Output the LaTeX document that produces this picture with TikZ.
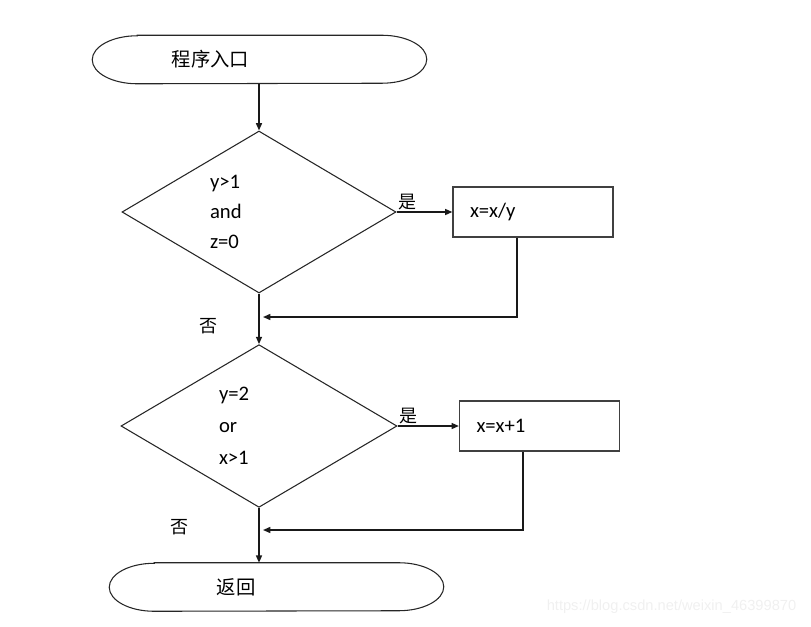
\documentclass[tikz,border=0pt]{standalone}
\usepackage{fontspec}
\setmainfont{Carlito}
\newfontfamily\cjk{Noto Sans CJK SC}
\newfontfamily\markfont{Liberation Sans}
\usetikzlibrary{arrows.meta,shapes.geometric,calc}
\tikzset{
shapeline/.style={
    draw=black!85,
    line width=0.8pt
},
terminalbox/.style={
    rectangle,
    minimum width=250.5pt,
    minimum height=36pt,
    inner sep=0pt
},
decision/.style={
    diamond,
    shapeline,
    aspect=1.7,
    inner sep=0pt,
    align=left,
    font=\fontsize{15.5}{22.5}\selectfont
},
process/.style={
    rectangle,
    draw=black!75,
    line width=0.9pt,
    minimum width=120pt,
    minimum height=37.5pt,
    inner xsep=12.75pt,
    inner ysep=0pt,
    text width=94.5pt,
    align=left,
    font=\fontsize{15.5}{18}\selectfont
},
cjklabel/.style={
    inner sep=1pt,
    font=\cjk\fontsize{14.5}{16}\selectfont
},
branch/.style={
    inner sep=1pt,
    font=\cjk\fontsize{13.5}{15}\selectfont
},
flowline/.style={
    draw=black!90,
    line width=1.1pt,
    -{Triangle[length=5.5pt,width=4.5pt]}
},
}
\tikzset{pics/terminal/.style 2 args={code={
%
\node (box) [terminalbox] {};
\draw [shapeline] ($ (box.north west) + (45,0) $) -- ($ (box.north east) - (45,0) $)
    arc [start angle=90, end angle=-90, x radius=45, y radius=24]
    -- ($ (box.south west) + (45,0) $)
    arc [start angle=270, end angle=90, x radius=45, y radius=24] -- cycle;
\node (text) [cjklabel,anchor=west] at ($ (box.west) + (#2,0) $) {#1};
%
}}}

\begin{document}
\begin{tikzpicture}[x=0.75pt,y=0.75pt]

\useasboundingbox (0,0) rectangle (811,-626);

\pic (start-) at (259.5,-59.5) {terminal={程序入口}{78}};
\pic (stop-) at (276.5,-587) {terminal={返回}{106}};

\node (cond1) [decision,minimum width=205.5pt,minimum height=121.5pt,text width=73.5pt] at (259,-212) {y>1\\and\\z=0};
\node (cond2) [decision,minimum width=207pt,minimum height=122pt,text width=60pt,font=\fontsize{15.5}{24}\selectfont] at (259,-426) {y=2\\or\\x>1};

\node (box1) [process] at (533,-212) {x=x/y};
\node (box2) [process] at (539.5,-426) {x=x+1};

\coordinate (join1) at (259,-317);
\coordinate (join2) at (259,-530);

% main line
\draw [flowline] (start-box.south -| cond1.north) -- (cond1.north);
\draw [flowline] (cond1.south) -- (cond2.north);
\draw [flowline] (cond2.south) -- (stop-box.north -| cond2.south);
%
\draw [flowline] (cond1.east) -- node [branch,pos=0,anchor=south west] (yes1) {是} (box1.west);
\draw [flowline] (cond2.east) -- node [branch,pos=0,anchor=south west] (yes2) {是} (box2.west);
%
\draw [flowline,shorten >=3pt] ($ (box1.south) + (-16,0) $) |- (join1);
\draw [flowline,shorten >=3pt] ($ (box2.south) + (-16.5,0) $) |- (join2);
%
\node (no1) [branch] at (208,-326) {否};
\node (no2) [branch] at (179,-527) {否};

\node (mark) [anchor=east,text=black!6,font=\markfont\fontsize{11}{13}\selectfont] at (801,-607) {https://blog.csdn.net/weixin\_46399870};

\end{tikzpicture}
\end{document}
